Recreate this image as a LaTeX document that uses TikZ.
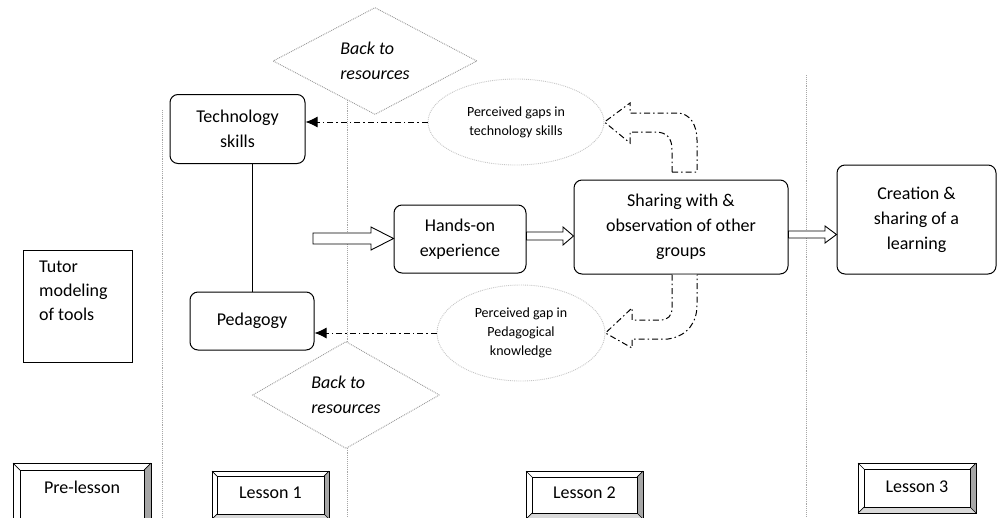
\documentclass[tikz,border=0pt]{standalone}
\usepackage{fontspec}
\setmainfont{Carlito}
\usetikzlibrary{shapes.geometric,arrows.meta}
\newcommand\bevelbtn[8]{% name, x1, y1, x2, y2, inset, text y, text
  \fill[white] (#2,#3) rectangle (#4,#5);
  \fill[gray!70] (#4,#3) -- (#4,#5) -- ({#4-#6},{#5-#6}) -- ({#4-#6},{#3+#6}) -- cycle;
  \fill[gray!30] (#2,#5) -- (#4,#5) -- ({#4-#6},{#5-#6}) -- ({#2+#6},{#5-#6}) -- cycle;
  \draw[line width=1pt] (#2,#3) rectangle (#4,#5);
  \draw[line width=1pt] ({#2+#6},{#3+#6}) rectangle ({#4-#6},{#5-#6});
  \draw[line width=0.7pt] (#2,#3) -- ({#2+#6},{#3+#6}) (#4,#3) -- ({#4-#6},{#3+#6})
        (#2,#5) -- ({#2+#6},{#5-#6}) (#4,#5) -- ({#4-#6},{#5-#6});
  \node[lessontxt] (#1) at ({(#2+#4)/2},#7) {#8};
}
\begin{document}
\begin{tikzpicture}[x=1pt,y=-1pt,
  box/.style={draw, line width=1pt, rounded corners=8pt, align=center, inner sep=2pt,
              font=\fontsize{18}{25}\selectfont},
  backdiam/.style={diamond, draw=gray!80, densely dotted, line width=0.9pt, fill=white,
              inner sep=0pt, align=left, font=\fontsize{18}{25}\selectfont\itshape},
  gapell/.style={ellipse, draw=gray!45, densely dotted, line width=0.9pt, fill=white,
              inner sep=0pt, align=center, font=\fontsize{14}{19}\selectfont},
  hollow/.style={draw, line width=0.9pt, fill=white},
  dashdot/.style={line width=1pt, dash pattern=on 6pt off 3pt on 1.5pt off 3pt},
  lessonline/.style={draw=gray!70, densely dotted, line width=0.9pt},
  lessontxt/.style={font=\fontsize{18}{20}\selectfont, inner sep=0pt}]
\useasboundingbox (0,0) rectangle (998,517);
\clip (0,0) rectangle (998,517);

% lesson separators
\coordinate (s1t) at (162,110); \coordinate (s1b) at (162,517);
\coordinate (s2t) at (347,100); \coordinate (s2b) at (347,517);
\coordinate (s3t) at (806,75);  \coordinate (s3b) at (806,517);
\draw[lessonline] (s1t) -- (s1b);
\draw[lessonline] (s2t) -- (s2b);
\draw[lessonline] (s3t) -- (s3b);

% diamonds
\node[backdiam, minimum width=204, minimum height=100] (back1) at (375,61) {Back to\\resources};
\node[backdiam, minimum width=187, minimum height=100] (back2) at (346,395) {Back to\\resources};

% main boxes
\node[box, minimum width=135, minimum height=69] (tech) at (237.5,129) {Technology\\skills};
\node[box, minimum width=124, minimum height=58] (ped) at (252,321) {Pedagogy};
\node[box, minimum width=132, minimum height=68] (hands) at (460,239) {Hands-on\\experience};
\node[box, minimum width=214, minimum height=94] (share) at (681,227) {Sharing with \&\\observation of other\\groups};
\node[box, minimum width=159, minimum height=109] (create) at (916.5,219.5) {Creation \&\\sharing of a\\learning};
\node[draw, line width=1pt, minimum width=109, minimum height=112, inner sep=0pt] (tutor) at (77.5,306) {};
\node[anchor=north west, align=left, inner sep=0pt, font=\fontsize{18}{24}\selectfont] (tutortxt) at (39,261) {Tutor\\modeling\\of tools};

\draw[line width=1pt] (tech.south -| ped.north) -- (ped.north);

% perceived gaps
\node[gapell, minimum width=176, minimum height=86] (gap1) at (516,122) {Perceived gaps in\\technology skills};
\node[gapell, minimum width=168, minimum height=96] (gap2) at (521,333) {Perceived gap in\\Pedagogical\\knowledge};

\draw[dashdot, -{Latex[length=12pt,width=11pt]}] (gap1.west) -- (tech.east |- gap1.west);
\draw[dashdot, -{Latex[length=12pt,width=11pt]}] (gap2.west) -- (ped.east |- gap2.west);

% hollow flow arrows
\coordinate (a1s) at (313,238.5);
\draw[hollow] (a1s) ++(0,-5.5) -- (371,233) -- (371,227) -- (hands.west |- a1s) -- (371,250) -- (371,244) -- (313,244) -- cycle;
\coordinate (a2s) at (hands.east |- 0,236);
\draw[hollow] (hands.east |- 0,232) -- (563,232) -- (563,227) -- (share.west |- a2s) -- (563,245) -- (563,240) -- (hands.east |- 0,240) -- cycle;
\coordinate (a3s) at (share.east |- 0,234.5);
\draw[hollow] (share.east |- 0,231) -- (825,231) -- (825,226) -- (create.west |- a3s) -- (825,243) -- (825,238) -- (share.east |- 0,238) -- cycle;

% curved dash-dot feedback arrows
\draw[dashdot, fill=white] (672,172) -- (672,150) .. controls (672,138) and (667,132) .. (655,132)
  -- (630,132) -- (630,143) -- (gap1.east) -- (630,103) -- (630,113) -- (677,113)
  .. controls (690,113) and (697,125) .. (697,140) -- (697,172) -- cycle;
\draw[dashdot, fill=white] (share.south -| 672,0) -- (672,308) .. controls (672,316) and (668,320) .. (660,320)
  -- (632,320) -- (632,308) -- (gap2.east) -- (632,348) -- (632,339) -- (668,339)
  .. controls (688,336) and (697,322) .. (697,305) -- (share.south -| 697,0);

% lesson buttons
\bevelbtn{pre}{13}{463}{151}{526}{7}{487}{Pre-lesson}
\bevelbtn{l1}{212}{471}{329}{519}{5}{493}{Lesson 1}
\bevelbtn{l2}{526}{471}{643}{519}{6}{493}{Lesson 2}
\bevelbtn{l3}{858}{463}{976}{513}{6}{487}{Lesson 3}
\end{tikzpicture}
\end{document}
